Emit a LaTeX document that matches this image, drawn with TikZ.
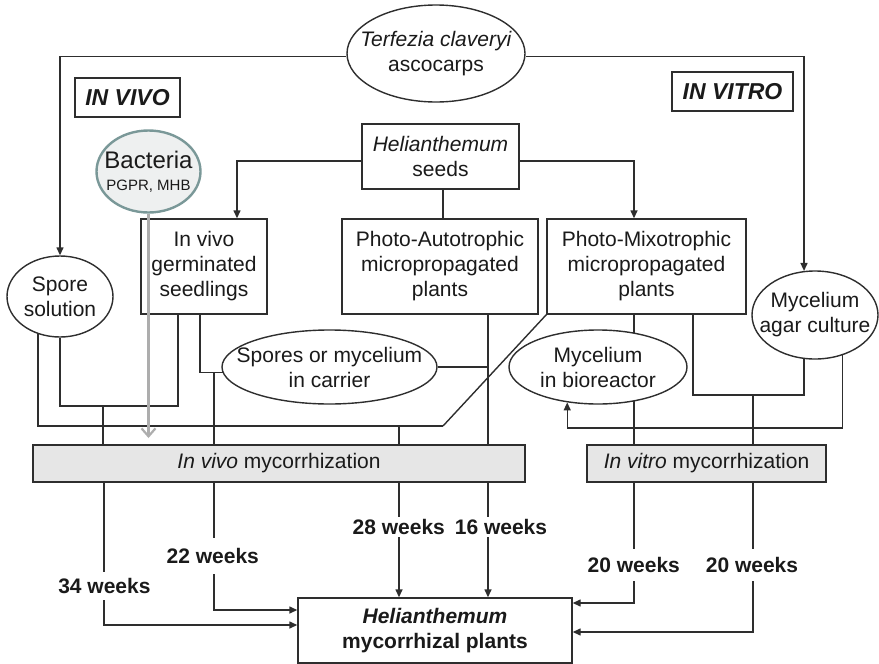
\documentclass[tikz,border=0pt]{standalone}
\usepackage{fontspec}
\setmainfont{Liberation Sans}
\usetikzlibrary{shapes.geometric,arrows.meta}
\definecolor{linec}{HTML}{2E2E2E}
\definecolor{txt}{HTML}{1A1A1A}
\definecolor{boxgrey}{HTML}{E6E6E6}
\definecolor{bacfill}{HTML}{EEF0F0}
\definecolor{bacdraw}{HTML}{7A9898}
\definecolor{greyarrow}{HTML}{ADADAD}
\begin{document}
\begin{tikzpicture}[x=1pt,y=-1pt,
  every node/.style={text=txt},
  mf/.style={font=\fontsize{21}{25}\selectfont},
  box/.style={draw=linec,line width=1.4pt,fill=white,inner sep=0pt,align=center,mf},
  ell/.style={ellipse,draw=linec,line width=1.4pt,fill=white,inner sep=-20pt,align=center,mf},
  conn/.style={draw=linec,line width=1.4pt},
  arr/.style={conn,-{Triangle[length=8pt,width=7pt]}},
  wk/.style={fill=white,inner xsep=2pt,inner ysep=4pt,font=\fontsize{21}{25}\selectfont\bfseries},
  tag/.style={draw=linec,line width=1.4pt,inner sep=0pt,font=\fontsize{23}{27}\selectfont\bfseries\itshape}
]
\useasboundingbox (0,0) rectangle (879,664);

% nodes
\node[ell,minimum width=178pt,minimum height=97pt] (terf) at (436,53.5) {\textit{Terfezia claveryi}\\ascocarps};
\node[tag,minimum width=105pt,minimum height=39pt] (tvivo) at (127.5,97.5) {IN VIVO};
\node[tag,minimum width=121pt,minimum height=39pt] (tvitro) at (732.5,91.5) {IN VITRO};
\node[box,minimum width=157pt,minimum height=65pt] (seeds) at (440.5,156.5) {\textit{Helianthemum}\\seeds};
\node[ellipse,draw=bacdraw,line width=2.4pt,fill=bacfill,inner sep=-20pt,align=center,
      minimum width=104pt,minimum height=82pt,font=\fontsize{24}{26}\selectfont] (bact) at (148.5,171.5)
      {Bacteria\\[-4pt]{\fontsize{15}{17}\selectfont PGPR, MHB}};
\node[box,minimum width=126pt,minimum height=95pt] (seedl) at (204,266.5) {In vivo\\germinated\\seedlings};
\node[box,minimum width=196pt,minimum height=95pt] (auto) at (440,266.5) {Photo-Autotrophic\\micropropagated\\plants};
\node[box,minimum width=199pt,minimum height=95pt] (mixo) at (646.5,266.5) {Photo-Mixotrophic\\micropropagated\\plants};
\node[ell,minimum width=106pt,minimum height=81pt] (spore) at (60,296.5) {Spore\\solution};
\node[ell,minimum width=126pt,minimum height=88pt] (agar) at (815,315) {Mycelium\\agar culture};
\node[ell,minimum width=215pt,minimum height=74pt] (carrier) at (329.5,367) {Spores or mycelium\\in carrier};
\node[ell,minimum width=178pt,minimum height=74pt] (bior) at (598,367) {Mycelium\\in bioreactor};
\node[box,fill=boxgrey,minimum width=492pt,minimum height=37pt] (vivom) at (279,463.5) {\textit{In vivo} mycorrhization};
\node[box,fill=boxgrey,minimum width=239pt,minimum height=37pt] (vitrom) at (706.5,463.5) {\textit{In vitro} mycorrhization};
\node[box,minimum width=274pt,minimum height=65pt,font=\fontsize{21}{25}\selectfont\bfseries] (final) at (435,630.5) {\textit{Helianthemum}\\mycorrhizal plants};

% top frame
\draw[arr] (terf.182) -| (spore.north);
\draw[arr] (terf.-2) -| (agar.104);

% seeds
\draw[arr] ([yshift=-4.5pt]seeds.west) -| ([xshift=33pt]seedl.north);
\draw[arr] ([yshift=-4.5pt]seeds.east) -| ([xshift=-12.5pt]mixo.north);
\draw[conn] (seeds.south -| 443,0) -- (auto.north -| 443,0);

% spore solution
\draw[conn] (spore.-121 -| 38,0) |- (443,426);
\draw[conn] (443,426) -- (mixo.south west);
\draw[conn] (399,426) -- (vivom.north -| 399,0);
\draw[conn] (spore.south) |- (178,406) -- (seedl.south -| 178,0);
\draw[conn] (103,406) -- (vivom.north -| 103,0);

% seedlings / carrier
\draw[conn] (seedl.south -| 200,0) |- (carrier.183);
\draw[conn] (carrier.183 -| 214,0) -- (vivom.north -| 214,0);
\draw[conn] (carrier.east) -- (carrier.east -| 488,0);
\draw[conn] (auto.south -| 488,0) -- (vivom.north -| 488,0);

% mixotrophic / bioreactor / agar
\draw[conn] (mixo.south -| 634,0) -- (bior.43 -| 634,0);
\draw[conn] (bior.-43 -| 634,0) -- (vitrom.north -| 634,0);
\draw[conn] (mixo.south -| 693,0) |- (agar.-104 |- 0,395) -- (agar.-104);
\draw[conn] (753,395) -- (vitrom.north -| 753,0);
\draw[arr] (agar.-56) |- (bior.-131 |- 0,428) -- (bior.-131);

% bacteria
\coordinate (bactend) at (148.5,438);
\draw[greyarrow,line width=2.2pt,-{Straight Barb[length=8pt,width=14pt]}] (bact.south -| bactend) -- (bactend);

% bottom
\draw[arr] (vivom.south -| 104,0) |- ([yshift=5.5pt]final.west);
\draw[arr] (vivom.south -| 214,0) |- ([yshift=20.5pt]final.west);
\draw[arr] (vivom.south -| 399,0) -- (final.north -| 399,0);
\draw[arr] (vivom.south -| 488,0) -- (final.north -| 488,0);
\draw[arr] (vitrom.south -| 634,0) |- ([yshift=27.5pt]final.east);
\draw[arr] (vitrom.south -| 753,0) |- ([yshift=-1.5pt]final.east);

% labels
\node[wk,inner ysep=6pt] (w34) at (104.4,586) {34 weeks};
\node[wk,inner ysep=10pt] (w22) at (212.8,556) {22 weeks};
\node[wk,inner ysep=2pt] (w28) at (398.8,527) {28 weeks};
\node[wk,inner ysep=2pt] (w16) at (501,527) {16 weeks};
\node[wk,inner ysep=8pt] (w20a) at (633.8,565) {20 weeks};
\node[wk,inner ysep=8pt] (w20b) at (752,565) {20 weeks};
\end{tikzpicture}
\end{document}
